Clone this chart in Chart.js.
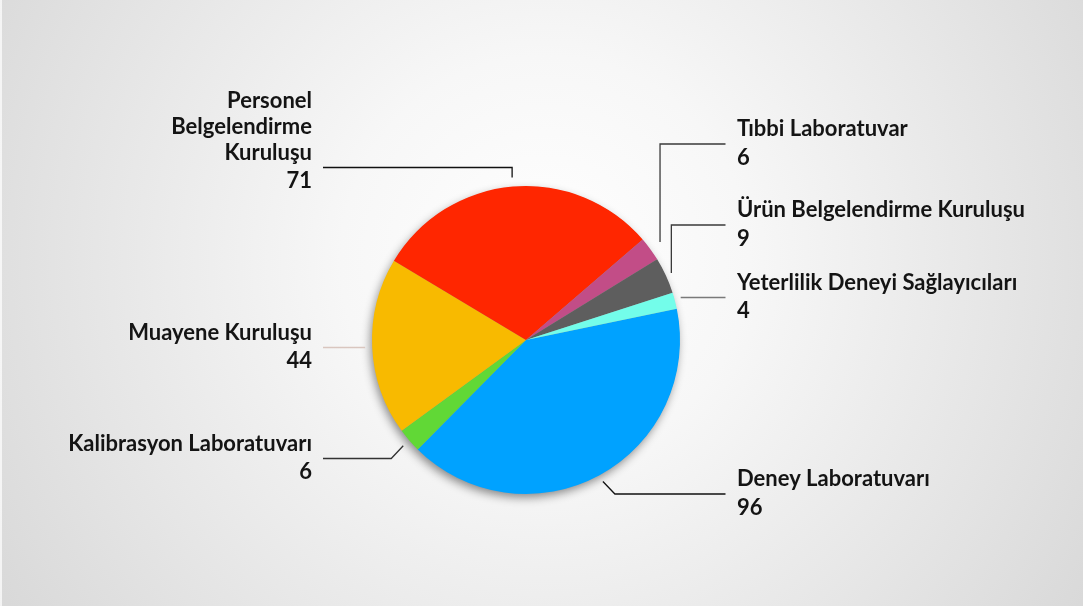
<!DOCTYPE html>
<html>
<head>
<meta charset="utf-8">
<script src="https://cdn.jsdelivr.net/npm/chart.js@4.4.1/dist/chart.umd.min.js"></script>
<style>
  html, body { margin: 0; padding: 0; background: #fff; }
  #wrap { width: 1083px; height: 606px; }
</style>
</head>
<body>
<div id="wrap"><canvas id="c" width="1083" height="606"></canvas></div>
<script>
// ---- data ----
const categories = [
  'Deney Laboratuvarı',
  'Kalibrasyon Laboratuvarı',
  'Muayene Kuruluşu',
  'Personel Belgelendirme Kuruluşu',
  'Tıbbi Laboratuvar',
  'Ürün Belgelendirme Kuruluşu',
  'Yeterlilik Deneyi Sağlayıcıları'
];
const values = [96, 6, 44, 71, 6, 9, 4];
const colors = ['#00a2ff', '#61d836', '#f8ba00', '#ff2600', '#c24d87', '#5e5e5e', '#73fdea'];

// ---- label layout (annotation placement only) ----
const labelLayout = [
  { side: 'right', lineY: 494,   kind: 'diag', gap: 7,  color: '#111' },
  { side: 'left',  lineY: 458.5, kind: 'diag', gap: 8,  color: '#333' },
  { side: 'left',  lineY: 347.5, kind: 'flat', gap: 7,  color: '#d9c6bf' },
  { side: 'left',  lineY: 167.5, kind: 'vert', gap: 9,  color: '#111', wrap: true },
  { side: 'right', lineY: 144,   kind: 'vert', gap: 12, color: '#3a3a3a' },
  { side: 'right', lineY: 225,   kind: 'vert', gap: 6,  color: '#3a3a3a' },
  { side: 'right', lineY: 297.5, kind: 'flat', gap: 6,  color: '#7a7a7a' }
];
const FONT = 'bold 22px Lato, "Open Sans", sans-serif';

const bgPlugin = {
  id: 'bg',
  beforeDraw(chart) {
    const ctx = chart.ctx, w = chart.width, h = chart.height;
    ctx.save();
    const g = ctx.createRadialGradient(545, 260, 0, 545, 260, 680);
    g.addColorStop(0, '#ffffff');
    g.addColorStop(0.3, '#f7f7f7');
    g.addColorStop(1, '#d6d6d6');
    ctx.fillStyle = g;
    ctx.fillRect(0, 0, w, h);
    ctx.fillStyle = 'rgba(255,255,255,0.7)';
    ctx.fillRect(0, 0, 2, h);
    ctx.restore();
  },
  beforeDatasetsDraw(chart) {
    const arc = chart.getDatasetMeta(0).data[0];
    if (!arc) return;
    const ctx = chart.ctx;
    ctx.save();
    ctx.shadowColor = 'rgba(0,0,0,0.45)';
    ctx.shadowBlur = 10;
    ctx.shadowOffsetX = -2;
    ctx.shadowOffsetY = 4;
    ctx.fillStyle = '#999';
    ctx.beginPath();
    ctx.arc(arc.x, arc.y, arc.outerRadius - 0.5, 0, Math.PI * 2);
    ctx.fill();
    ctx.restore();
  }
};

const leaderPlugin = {
  id: 'leaders',
  afterDatasetsDraw(chart) {
    const ctx = chart.ctx;
    const meta = chart.getDatasetMeta(0);
    ctx.save();
    meta.data.forEach((arc, i) => {
      const L = labelLayout[i];
      const mid = (arc.startAngle + arc.endAngle) / 2;
      const R = arc.outerRadius + L.gap;
      const ax = arc.x + R * Math.cos(mid);
      const ay = arc.y + R * Math.sin(mid);
      const endX = L.side === 'right' ? 725.5 : 323;
      ctx.strokeStyle = L.color;
      ctx.lineWidth = 1.3;
      ctx.beginPath();
      if (L.kind === 'vert') {
        ctx.moveTo(ax, ay);
        ctx.lineTo(ax, L.lineY);
        ctx.lineTo(endX, L.lineY);
      } else if (L.kind === 'diag') {
        const dx = L.side === 'right' ? 12 : -12;
        ctx.moveTo(ax, ay);
        ctx.lineTo(ax + dx, L.lineY);
        ctx.lineTo(endX, L.lineY);
      } else {
        ctx.moveTo(ax, L.lineY);
        ctx.lineTo(endX, L.lineY);
      }
      ctx.stroke();

      // text
      ctx.fillStyle = '#141414';
      ctx.font = FONT;
      ctx.textBaseline = 'alphabetic';
      const tx = L.side === 'right' ? 737 : 312;
      ctx.textAlign = L.side === 'right' ? 'left' : 'right';
      const nameLines = L.wrap ? categories[i].split(' ') : [categories[i]];
      const lastBase = L.lineY - 8;
      nameLines.forEach((t, k) => {
        ctx.fillText(t, tx, lastBase - (nameLines.length - 1 - k) * 26);
      });
      ctx.fillText(String(values[i]), tx, L.lineY + 20.5);
    });
    ctx.restore();
  }
};

new Chart(document.getElementById('c'), {
  type: 'pie',
  data: {
    labels: categories,
    datasets: [{
      data: values,
      backgroundColor: colors,
      borderWidth: 0,
      hoverOffset: 0
    }]
  },
  options: {
    responsive: false,
    devicePixelRatio: 1,
    animation: false,
    rotation: 78.25,
    layout: { padding: { top: 186, bottom: 112, left: 200, right: 231 } },
    plugins: { legend: { display: false }, tooltip: { enabled: false } },
    events: []
  },
  plugins: [bgPlugin, leaderPlugin]
});
</script>
</body>
</html>
